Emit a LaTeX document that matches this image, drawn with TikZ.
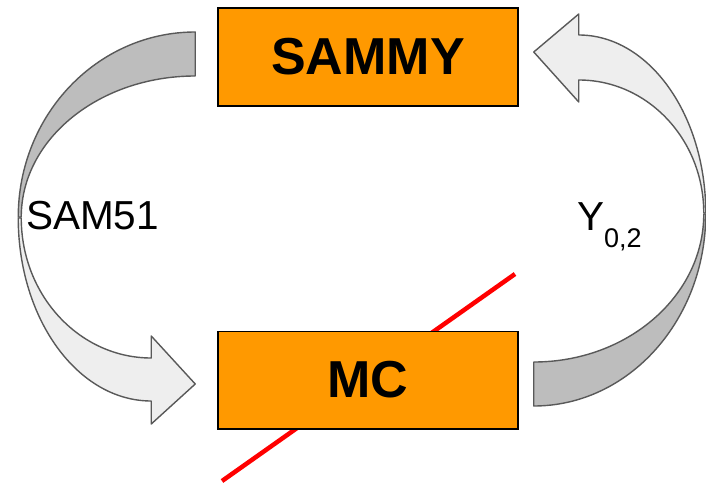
\documentclass[tikz,border=0pt]{standalone}
\usepackage{fontspec}
\setmainfont{Liberation Sans}
\usepackage{xcolor}
\usepackage{tikz}
\usetikzlibrary{positioning}
\definecolor{boxorange}{HTML}{FF9900}
\definecolor{arrowdark}{HTML}{BDBDBD}
\definecolor{arrowlight}{HTML}{EEEEEE}
\definecolor{arrowline}{HTML}{595959}

\begin{document}
\begin{tikzpicture}[x=1pt, y=1pt,
  block/.style={draw=black, line width=1.5pt, fill=boxorange, minimum width=300pt, minimum height=97.5pt, inner sep=0pt, font=\fontsize{52}{60}\selectfont\bfseries},
  backside/.style={draw=arrowline, line width=1.4pt, fill=arrowdark, line join=round},
  frontside/.style={draw=arrowline, line width=1.4pt, fill=arrowlight, line join=round},
  lbl/.style={font=\fontsize{40.5}{48}\selectfont, inner sep=0pt}]
  \useasboundingbox (0,0) rectangle (706,483);
  % red strike line, goes under MC
  \coordinate (s1) at (222,2);
  \coordinate (s2) at (515,209);
  \draw[red, line width=4.5pt] (s1) -- (s2);
  \node[block] (sammy) at (368,426) {SAMMY};
  \node[block, below=224pt of sammy] (mc) {MC};
  \coordinate (lt) at ([xshift=-22pt,yshift=3pt]sammy.west);
  \coordinate (lh) at ([xshift=-22pt,yshift=-4pt]mc.west);
  \coordinate (rt) at ([xshift=15pt,yshift=-4pt]mc.east);
  \coordinate (rh) at ([xshift=15pt,yshift=5pt]sammy.east);
  % left arrow: SAMMY -> MC
  \draw[backside] ([yshift=22pt]lt) arc[start angle=90, end angle=180, x radius=177pt, y radius=185pt]
    -- ++(3,0) arc[start angle=180, end angle=90, x radius=174pt, y radius=141pt] -- cycle;
  \draw[frontside] (lh) -- ++(-44,48) -- ++(0,-22)
    arc[start angle=270, end angle=180, x radius=130pt, y radius=140pt] -- ++(-3,0)
    arc[start angle=180, end angle=270, x radius=133pt, y radius=183pt] -- ++(0,-23) -- cycle;
  % right arrow: MC -> SAMMY
  \draw[backside] ([yshift=-22pt]rt) arc[start angle=270, end angle=360, x radius=172pt, y radius=192pt]
    -- ++(-2,0) arc[start angle=0, end angle=-90, x radius=170pt, y radius=148pt] -- cycle;
  \draw[frontside] (rh) -- ++(45,-50) -- ++(0,22)
    arc[start angle=90, end angle=0, x radius=125pt, y radius=133pt] -- ++(2,0)
    arc[start angle=0, end angle=90, x radius=127pt, y radius=178pt] -- ++(0,21) -- cycle;
  \node[lbl] (samlbl) at (92.5,267.5) {SAM51};
  \node[lbl, anchor=base west] (ylbl) at (577,253) {Y\raisebox{-17pt}{\fontsize{27}{30}\selectfont 0,2}};
\end{tikzpicture}
\end{document}
